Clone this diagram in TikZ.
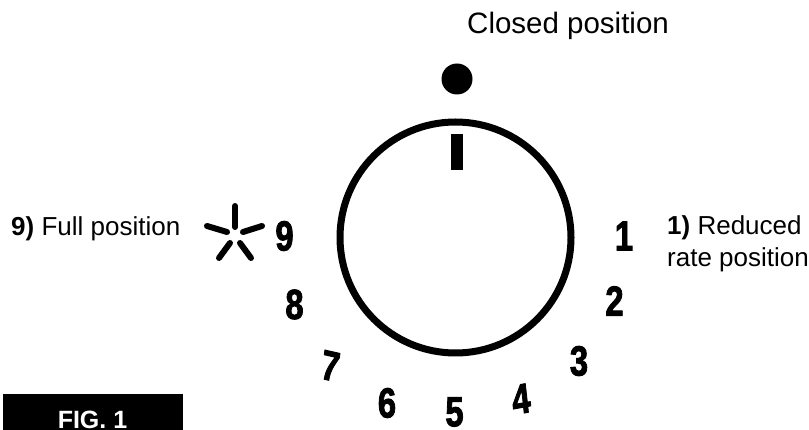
\documentclass[tikz,border=0pt]{standalone}
\usepackage{fontspec}
\setmainfont{Liberation Sans}
\newfontfamily\digitfont[FakeBold=2.4]{Liberation Sans Bold}
\tikzset{
  px/.style={x=1pt,y=-1pt},
  lab/.style={anchor=base west,inner sep=0pt,font=\fontsize{26}{30}\selectfont,align=left},
  dial/.style={inner sep=0pt,font=\fontsize{42}{42}\selectfont\digitfont,xscale=.78},
  ray/.style={line width=6pt,line cap=round}
}
\begin{document}
\begin{tikzpicture}[px]
\useasboundingbox (0,0) rectangle (809,430);
\node[lab,font=\fontsize{29.5}{34}\selectfont] (closed) at (467,34) {Closed position};
\fill (457,79) circle (15.5);
\draw[line width=7pt] (455.5,237.5) circle (115.5);
\fill (451,134) rectangle (463,170);
\node[lab] (full) at (11,236) {\textbf{9)} Full position};
\node[lab] (red) at (667,235) {\textbf{1)} Reduced};
\node[lab] (rate) at (667,267) {rate position};
\draw[ray] (235,206) -- (235,227);
\draw[ray] (207,226) -- (227,232);
\draw[ray] (262,226) -- (243,232);
\draw[ray] (219,258) -- (230,243);
\draw[ray] (251,258) -- (240,243);
\node[dial] (d9) at (284.5,236) {9};
\node[dial] (d8) at (294.5,304.5) {8};
\node[dial,rotate=-10] (d7) at (330.5,366) {7};
\node[dial] (d6) at (387,403) {6};
\node[dial] (d5) at (454.5,412) {5};
\node[dial,rotate=8] (d4) at (521,399) {4};
\node[dial] (d3) at (579,361) {3};
\node[dial] (d2) at (614.5,301) {2};
\node[dial] (d1) at (624,236) {1};
\fill (3,394) rectangle (183,430);
\node[anchor=base,inner sep=0pt,text=white,font=\fontsize{25}{29}\selectfont\bfseries] (fig) at (92.5,428.5) {FIG. 1};
\end{tikzpicture}
\end{document}
